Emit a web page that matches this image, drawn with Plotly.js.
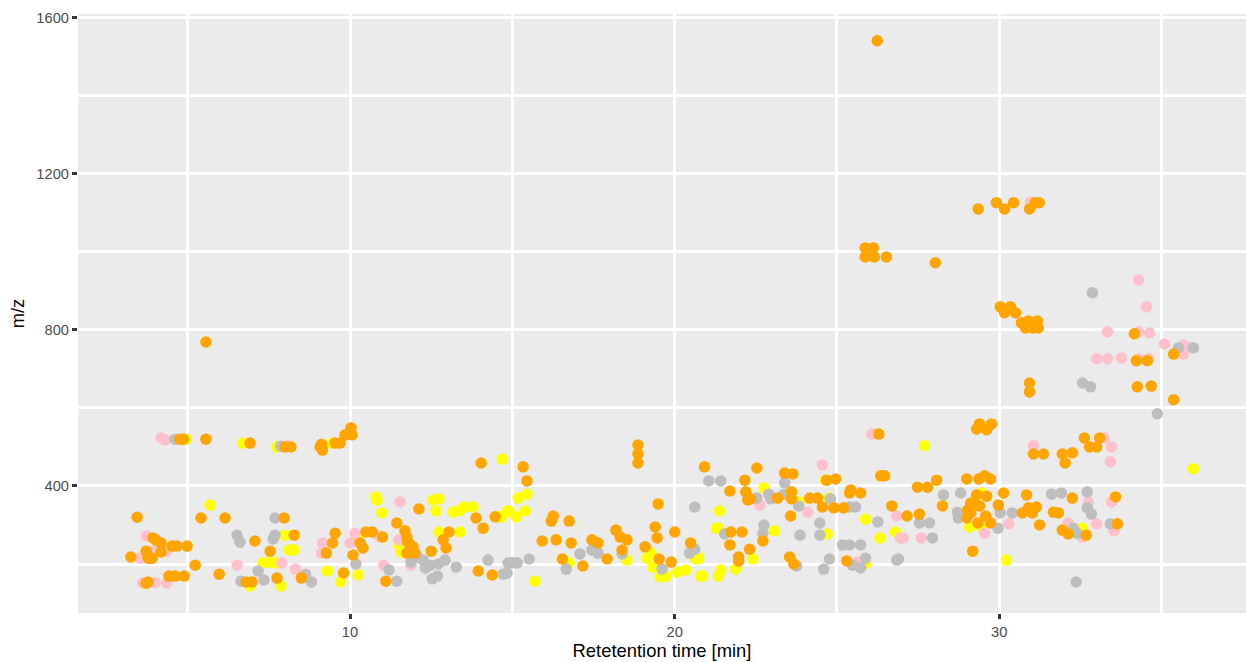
<!DOCTYPE html>
<html>
<head>
<meta charset="utf-8">
<script src="https://cdn.plot.ly/plotly-3.0.1.min.js"></script>
<style>html,body{margin:0;padding:0;background:#fff;}#chart{width:1246px;height:662px;}</style>
</head>
<body>
<div id="chart"></div>
<script>
// Retention time (min) and m/z values, one pair of arrays per colour group
const orangeRT = [4.76,4.86,5.56,6.92,8.0,8.18,3.44,5.41,6.15,7.97,3.93,4.02,4.18,3.72,4.18,4.52,4.67,4.98,3.25,3.78,3.9,7.07,8.28,7.54,5.23,5.97,4.42,4.61,4.89,3.72,3.78,6.8,6.98,7.75,5.56,
9.08,9.15,9.12,9.54,9.69,9.85,10.06,10.03,14.04,12.12,13.88,14.1,14.47,11.44,11.69,11.75,11.78,11.85,11.94,11.75,12.0,12.5,12.87,12.96,13.05,9.46,9.27,9.54,10.49,10.68,10.31,10.4,11.0,10.09,8.5,9.8,11.1,13.95,14.38,
15.33,15.45,18.87,18.87,18.87,16.26,16.2,16.75,15.92,16.35,16.81,16.54,17.17,17.45,17.64,17.92,18.19,18.32,18.53,18.38,19.09,19.52,19.49,19.4,19.46,19.89,20.0,20.49,20.92,
26.29,22.53,22.16,21.7,22.19,22.25,22.34,23.17,23.39,23.64,23.6,23.6,23.57,24.16,24.4,24.68,24.96,24.55,24.9,25.2,25.39,25.42,25.73,26.35,26.47,26.69,21.73,22.07,21.7,22.31,21.97,21.97,22.72,23.54,23.67,25.3,
29.3,29.39,29.61,29.76,31.05,31.36,31.94,32.03,27.48,27.79,28.07,29.0,29.37,29.55,29.73,29.3,29.61,30.13,30.84,28.25,29.12,29.28,29.03,29.39,29.97,30.71,30.9,31.02,31.14,31.67,31.82,29.0,29.12,29.34,29.58,29.73,31.24,31.94,32.12,27.16,27.54,29.18,
34.16,34.22,34.56,35.37,34.25,34.68,35.37,32.62,33.09,32.78,33.0,32.25,32.25,33.58,32.68,33.64,
26.24,25.87,26.12,25.87,26.15,26.52,28.03,29.35,29.91,30.16,30.44,30.93,31.11,31.23,30.03,30.34,30.16,30.5,30.68,30.9,31.17,30.81,31.02,31.2,30.93,30.93];
const orangeMZ = [520,520,520,510,500,500,320,318,318,318,267,262,254,233,231,246,246,246,218,215,215,259,274,233,197,174,169,169,169,151,154,154,154,164,769,
500,492,507,510,510,531,531,549,459,341,318,292,321,305,285,269,256,249,244,228,228,233,262,241,282,254,228,279,282,282,254,241,269,223,164,177,156,182,172,
449,413,505,482,459,323,310,310,259,262,254,213,195,262,254,213,287,269,262,236,244,213,354,295,267,205,282,254,449,
533,446,415,387,385,364,367,369,433,431,385,367,323,369,369,415,418,346,344,344,382,390,382,426,426,349,282,282,249,238,218,208,259,218,200,208,
546,559,544,559,482,482,482,459,397,397,415,418,418,426,418,377,374,382,377,349,356,351,338,349,351,331,344,331,346,333,331,318,331,305,323,305,300,287,277,323,328,233,
790,721,721,738,654,656,621,523,523,500,500,485,369,372,274,303,
1541,1010,1010,987,987,987,972,1110,1126,1110,1126,1110,1126,1126,859,859,844,844,818,823,823,805,805,805,664,641];

const pinkRT = [4.18,4.3,3.72,4.0,3.53,4.36,3.62,4.0,4.36,6.52,7.9,8.08,11.54,11.51,11.88,9.15,9.12,10.15,10.0,10.28,10.89,8.32,11.04,
26.08,22.62,24.1,24.55,26.84,26.95,25.63,31.05,27.04,27.6,29.55,30.3,32.12,
34.29,34.53,33.33,34.29,34.63,35.09,35.67,35.8,35.67,33.0,33.33,33.76,34.3,34.6,33.24,33.46,33.42,33.46,32.74,32.56,33.0,33.54,30.96];
const pinkMZ = [523,518,272,236,215,233,152,152,151,197,203,503,359,262,197,254,228,279,254,254,272,187,197,
533,351,333,454,323,267,205,503,267,267,279,303,305,
928,859,795,795,792,764,762,756,738,726,726,728,726,726,523,500,462,359,359,269,303,285,1128];

const greyRT = [4.61,7.87,7.69,6.52,6.61,7.69,7.63,6.64,7.17,7.35,
10.18,8.63,8.81,11.2,11.44,11.88,12.07,12.25,12.32,12.47,12.72,12.93,12.53,12.69,13.27,14.25,14.72,14.87,
14.84,15.0,15.15,15.52,16.66,17.08,17.45,17.64,18.38,19.61,20.46,20.62,20.62,21.05,
21.42,22.53,22.9,22.96,23.37,23.39,23.82,24.8,25.39,25.57,26.26,21.54,22.75,22.72,23.76,23.86,24.47,24.47,24.77,24.59,25.17,25.39,25.73,25.48,25.73,25.88,26.84,
31.61,31.91,28.28,28.81,30.03,30.4,28.71,28.74,29.96,27.54,27.85,27.94,26.89,
32.87,35.52,35.98,32.56,32.81,34.87,32.71,32.71,32.84,32.28,32.4,33.42,32.37];
const greyMZ = [520,502,318,274,256,274,264,156,182,159,
200,174,154,185,156,205,218,210,190,197,200,210,162,169,192,210,174,203,
177,203,203,213,187,226,236,228,226,187,228,238,346,413,
413,369,379,367,379,408,349,367,346,346,308,277,300,279,195,274,305,274,213,187,249,249,249,197,190,215,210,
379,382,377,382,331,331,333,318,292,305,305,267,213,
895,754,754,664,654,585,385,344,328,292,279,303,154];

const yellowRT = [4.95,6.7,7.75,5.69,8.0,8.12,8.28,6.92,7.32,7.54,7.72,7.87,
9.45,14.69,10.8,10.83,10.98,12.56,12.74,12.65,13.18,13.39,13.52,13.79,14.59,14.84,11.51,11.57,12.75,13.39,10.25,9.3,9.71,10.25,
15.18,15.45,14.9,15.12,15.4,14.66,15.7,16.75,18.53,19.15,19.27,19.33,19.55,19.74,20.09,20.34,20.74,20.86,21.28,
22.75,23.84,24.76,24.64,25.88,26.32,26.8,21.38,21.35,23.07,22.41,24.7,25.87,20.65,20.8,21.35,21.42,21.88,
27.7,29.45,29.09,29.46,30.22,35.98,32.56];
const yellowMZ = [520,510,500,351,274,236,236,144,203,205,203,144,
510,469,372,364,331,364,367,336,333,338,346,346,321,336,249,231,282,282,269,182,154,172,
369,379,336,321,336,321,156,203,210,215,228,192,167,169,179,185,215,169,292,
395,359,369,415,315,267,282,336,292,285,213,277,200,213,169,169,185,187,
503,382,295,295,210,444,292];

const xTickVals = [10, 20, 30];
const xTickText = ['10', '20', '30'];
const xMinorVals = [5, 15, 25, 35];
const yTickVals = [400, 800, 1200, 1600];
const yTickText = ['400', '800', '1200', '1600'];
const yMinorVals = [200, 600, 1000, 1400];

const groups = [
  {x: yellowRT, y: yellowMZ, color: '#FFFF00'},
  {x: pinkRT, y: pinkMZ, color: '#FFC0CB'},
  {x: greyRT, y: greyMZ, color: '#BEBEBE'},
  {x: orangeRT, y: orangeMZ, color: '#FFA500'}
];

const traces = groups.map(g => ({
  type: 'scatter', mode: 'markers', x: g.x, y: g.y,
  marker: {color: g.color, size: 11.5, line: {width: 0}},
  hoverinfo: 'x+y', showlegend: false
}));

const fontFam = '"Liberation Sans", Arial, Helvetica, sans-serif';
const layout = {
  width: 1246, height: 662,
  margin: {l: 78, r: 0, t: 14, b: 49, pad: 0},
  paper_bgcolor: '#FFFFFF', plot_bgcolor: '#EBEBEB',
  font: {family: fontFam},
  showlegend: false,
  xaxis: {
    range: [1.62, 37.6], tickmode: 'array', tickvals: xTickVals, ticktext: xTickText,
    showgrid: true, gridcolor: '#FFFFFF', gridwidth: 3, zeroline: false, showline: false,
    ticks: 'outside', ticklen: 5, tickwidth: 3, tickcolor: '#333333',
    tickfont: {size: 14.7, color: '#4D4D4D', family: fontFam},
    minor: {tickmode: 'array', tickvals: xMinorVals, showgrid: true, gridcolor: '#FFFFFF', gridwidth: 3, ticks: ''},
    title: {text: 'Retetention time [min]', font: {size: 18.4, color: '#000000', family: fontFam}, standoff: 4},
    automargin: false
  },
  yaxis: {
    range: [74.5, 1609.5], tickmode: 'array', tickvals: yTickVals, ticktext: yTickText,
    showgrid: true, gridcolor: '#FFFFFF', gridwidth: 3, zeroline: false, showline: false,
    ticks: 'outside', ticklen: 5, tickwidth: 3, tickcolor: '#333333',
    tickfont: {size: 14.7, color: '#4D4D4D', family: fontFam},
    minor: {tickmode: 'array', tickvals: yMinorVals, showgrid: true, gridcolor: '#FFFFFF', gridwidth: 3, ticks: ''},
    title: {text: 'm/z', font: {size: 18.4, color: '#000000', family: fontFam}, standoff: 6},
    automargin: false
  }
};

Plotly.newPlot('chart', traces, layout, {displayModeBar: false, staticPlot: true});
</script>
</body>
</html>
